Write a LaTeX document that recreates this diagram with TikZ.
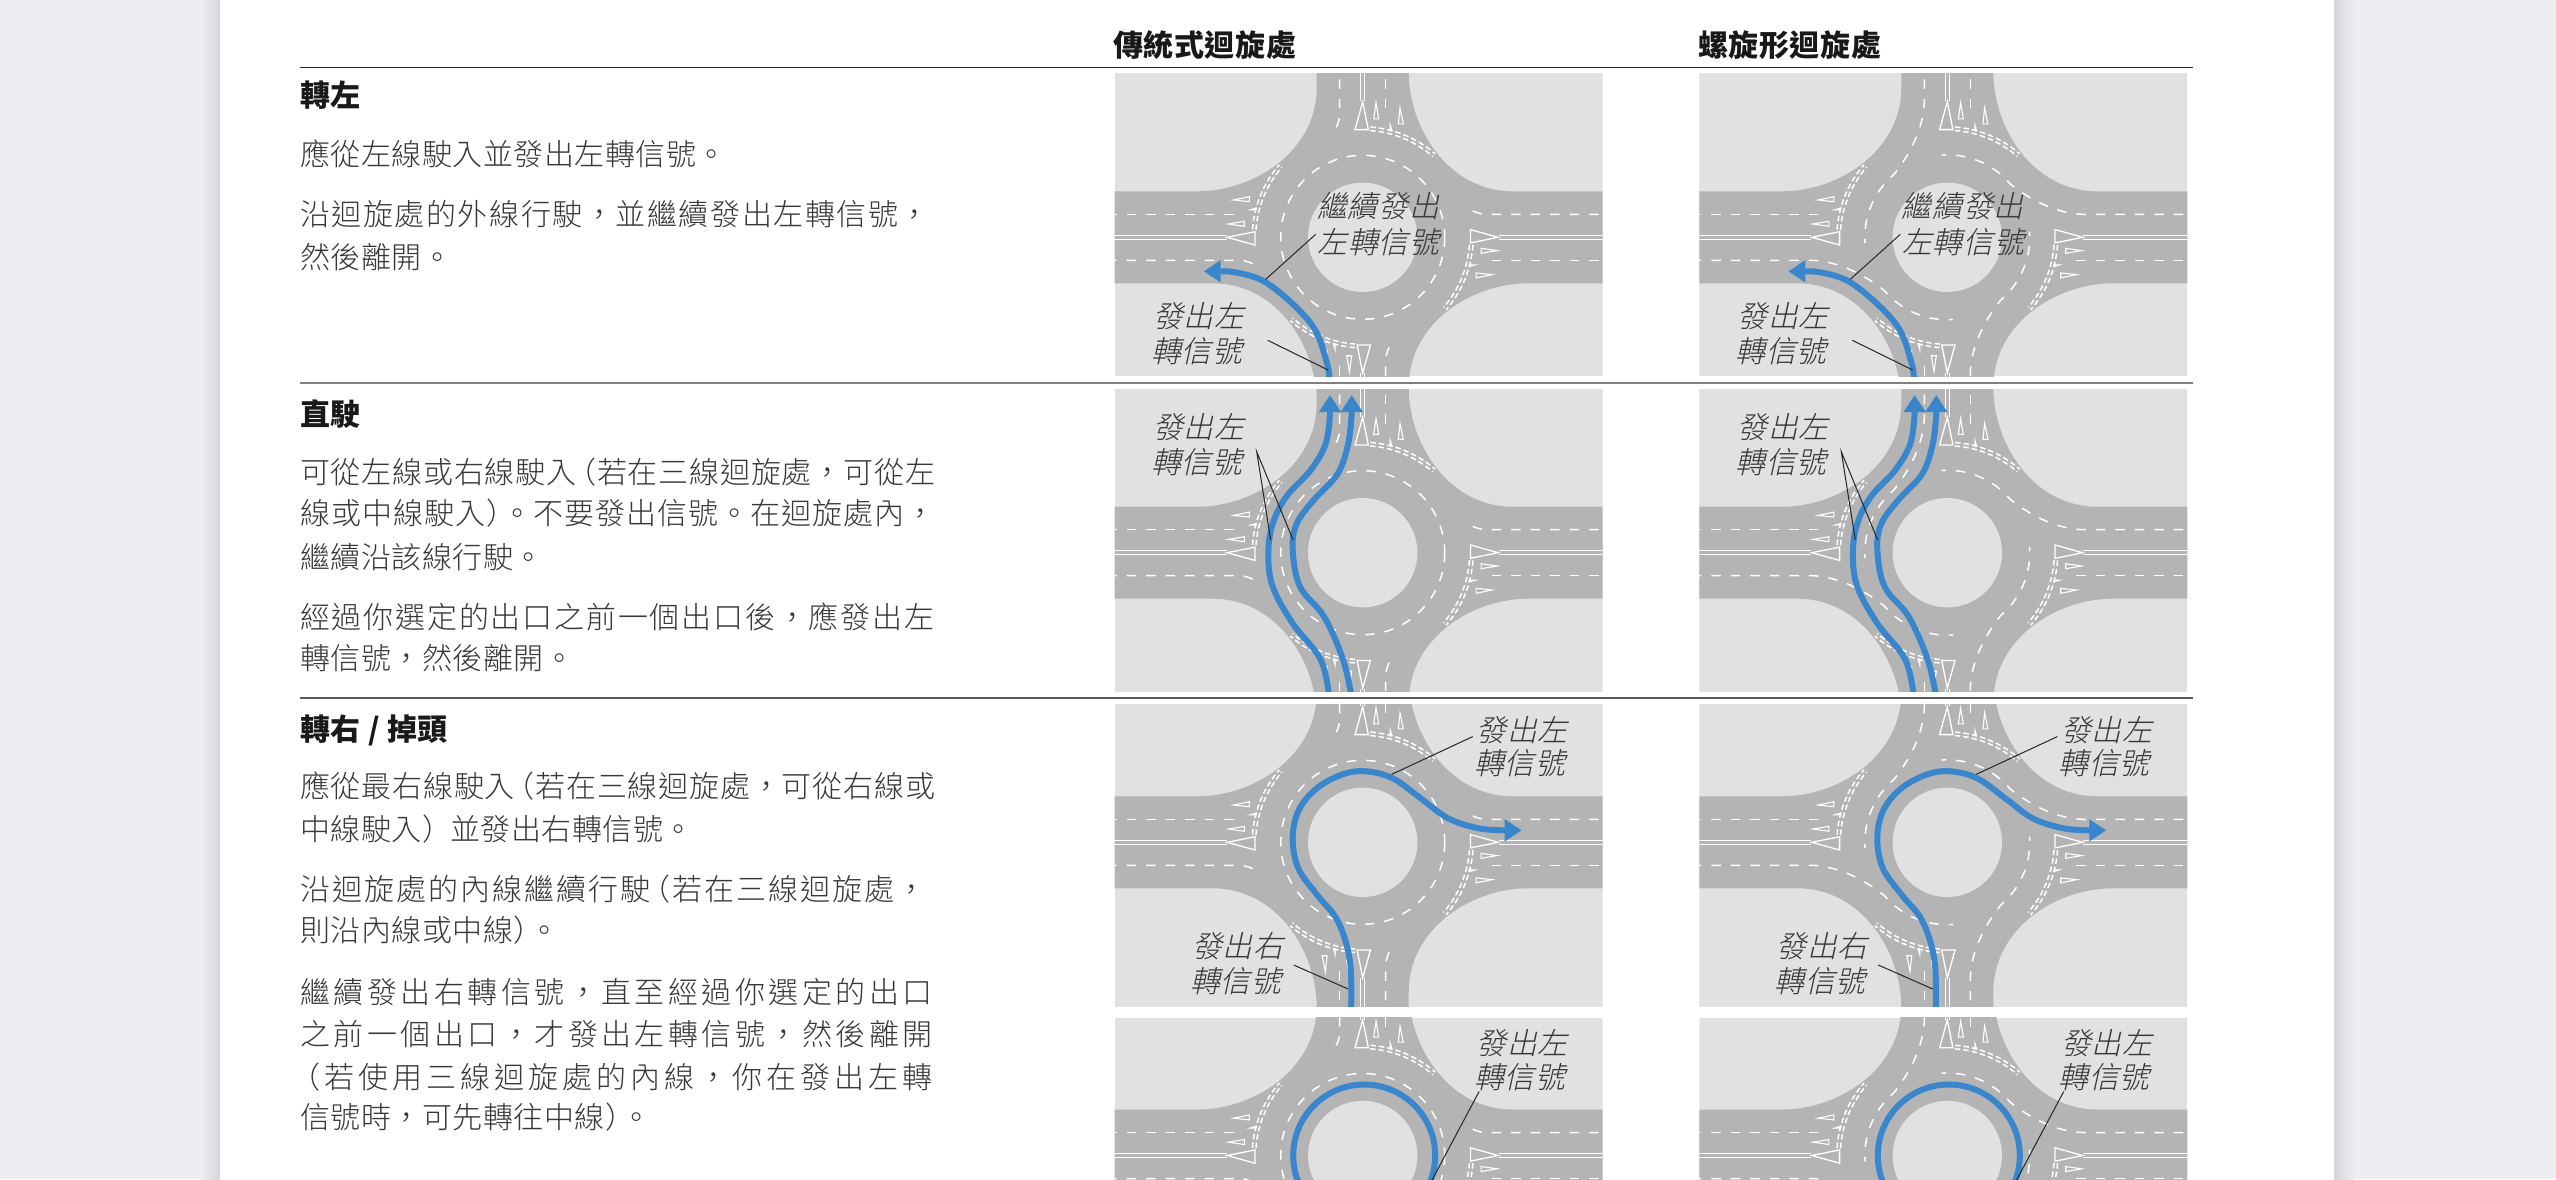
\documentclass[tikz,border=0pt]{standalone}
\usepackage{fontspec}
\usetikzlibrary{arrows.meta}
\setmainfont{Noto Sans CJK TC}
\newfontfamily\cjkL{Noto Sans CJK TC Light}
\newfontfamily\cjkI[FakeSlant=0.22]{Noto Sans CJK TC Light}
\newcommand\Fc{\symbol{"FF0C}}
\newcommand\Lp{\kern-10pt\symbol{"FF08}}
\newcommand\Rp{\symbol{"FF09}\kern-14pt}
\newcommand\RpW{\symbol{"FF09}\kern-2pt}
\definecolor{grass}{HTML}{E1E1E1}
\definecolor{road}{HTML}{B4B4B4}
\definecolor{bluep}{HTML}{3A86CC}
\definecolor{pagebg}{HTML}{EDEDF2}
\definecolor{pageedge}{HTML}{D6D6DA}
\definecolor{txt}{HTML}{383838}
\tikzset{
  wline/.style={draw=white,line width=1.2pt},
  wdash/.style={draw=white,line width=1.5pt,dash pattern=on 9.5pt off 10pt},
  wsmall/.style={draw=white,line width=1.5pt,dash pattern=on 5.5pt off 3pt},
  wtri/.style={draw=white,line width=1.3pt,line join=miter},
  bluepath/.style={draw=bluep,line width=6pt,-{Triangle[length=17pt,width=21pt]}},
  bluenoarrow/.style={draw=bluep,line width=6pt},
  callout/.style={draw=black!85,line width=1pt},
  lab/.style={inner sep=0pt,anchor=center,text=txt},
}
\newcommand\labtxt[1]{{\fontsize{30}{30}\selectfont\cjkI\addfontfeature{LetterSpace=2}#1}}
\newcommand\tline[4]{\node[inner sep=0pt,anchor=base west,text=txt] (#1) at (300,#2+10.5) {\fontsize{30}{30}\selectfont\cjkL\addfontfeature{LetterSpace=#3}#4};}
\newcommand\hdline[4]{\node[inner sep=0pt,anchor=base west,text=black!90] (#1) at (#2,#3+10.5) {\fontsize{30}{30}\selectfont\bfseries\addfontfeature{LetterSpace=2}#4};}
% one arm, drawn as the left arm
\newcommand\armmarks[1]{%
  \draw[wline] (-275,-2)--(-136,-2) (-275,2)--(-136,2);
  \draw[wtri] (-135.5,0)--(-107.7,-5.6)--(-107.7,7.7)--cycle;
  \draw[wtri,line width=1.1pt] (-129.4,-37.3)--(-113.4,-40.6)--(-113.4,-35.6)--cycle;
  \draw[wtri,line width=1.1pt] (-134.4,-13.3)--(-118.4,-16)--(-118.4,-11)--cycle;
  \fill[white] (-116,-27)--(-106,-30)--(-106,-27)--cycle;
  \draw[wdash] (-275,-23)--(-124,-23);
  \draw[wsmall] plot[domain=184:221,samples=16] ({107*cos(\x)},{107*sin(\x)});
  \draw[wsmall] plot[domain=184:221,samples=16] ({110.5*cos(\x)},{110.5*sin(\x)});
  \ifnum#1=1
    \draw[wdash] (-275,23)--(-135,23) .. controls (-110,24) and (-85,36) .. (-63.7,52.7)
       -- plot[domain=140:86,samples=12] ({82.5*cos(\x)},{82.5*sin(\x)});
  \else
    \draw[wdash] (-275,23)--(-122,23) .. controls (-116,23.5) and (-110,26) .. (-105,29);
  \fi
}
\newcommand\panel[6]{% cx cy top bottom spiral content
\begin{scope}[name prefix=p#5#2-]
  \begin{scope}
  \clip (#1-248,#2-#3) rectangle (#1+240,#2+#4);
  \fill[grass] (#1-248,#2-#3) rectangle (#1+240,#2+#4);
  \begin{scope}[shift={(#1,#2)}]
    \fill[road] (-275,-46) -- (-165,-46) .. controls (-110,-46) and (-46,-85) .. (-46,-150) -- (-46,-200)
      -- (46,-200) -- (46,-165) .. controls (46,-110) and (85,-46) .. (150,-46) -- (275,-46)
      -- (275,46) -- (165,46) .. controls (110,46) and (46,85) .. (46,150) -- (46,200)
      -- (-46,200) -- (-46,165) .. controls (-46,110) and (-85,46) .. (-150,46) -- (-275,46) -- cycle;
    \foreach \r in {0,90,180,270}{\begin{scope}[rotate=\r]\armmarks{#5}\end{scope}}
    \ifnum#5=0
      \draw[wdash] (0,0) circle[radius=82];
    \fi
    \fill[grass] (0,0) circle[radius=54.7];
    #6
  \end{scope}
  \end{scope}
\end{scope}}
\newcommand\rowa{%
  \draw[bluepath] plot[smooth,tension=0.6] coordinates {(-33.4,145) (-36,125) (-52,86) (-97,45) (-135,34)} -- (-159,34);
  \coordinate (c1a) at (-47,-3); \coordinate (c1b) at (-97,42);
  \draw[callout] (c1a)--(c1b);
  \coordinate (c2a) at (-95,103); \coordinate (c2b) at (-34.6,132.7);
  \draw[callout] (c2a)--(c2b);
  \node[lab] (t1) at (15.5,-30.7) {\labtxt{繼續發出}};
  \node[lab] (t2) at (16,5) {\labtxt{左轉信號}};
  \node[lab] (t3) at (-164,79) {\labtxt{發出左}};
  \node[lab] (t4) at (-166,114) {\labtxt{轉信號}};
}
\newcommand\rowb{%
  \draw[bluepath] plot[smooth,tension=0.6] coordinates {(-33.4,145) (-42,107) (-70,70.7) (-90,34) (-94.4,0.7) (-90,-29) (-76.4,-56) (-52,-82.7) (-37,-109) (-32.7,-139)} -- (-32.7,-157.7);
  \draw[bluepath] plot[smooth,tension=0.6] coordinates {(-11,145) (-19.6,107) (-38.6,64) (-62.7,34) (-70,-3) (-66,-29) (-49,-52.7) (-25,-79) (-14.5,-109) (-11,-139)} -- (-11,-157.7);
  \coordinate (c3a) at (-106,-101); \coordinate (c3b) at (-92,-12.7); \coordinate (c3c) at (-69.6,-12.7);
  \draw[callout] (c3b)--(c3a)--(c3c);
  \node[lab] (t3) at (-164,-126) {\labtxt{發出左}};
  \node[lab] (t4) at (-166,-91) {\labtxt{轉信號}};
}
\newcommand\rowc{%
  \draw[bluepath] plot[smooth,tension=0.6] coordinates {(-11.7,170) (-12.7,119) (-24.8,79) (-45.5,52.7) (-64.4,26) (-70,-4) (-64,-32) (-46,-54) (-20,-68) (3,-71) (30,-64) (58,-44) (85.4,-24) (116,-14) (143,-12)} -- (159,-12);
  \coordinate (c4a) at (110,-105.7); \coordinate (c4b) at (29,-68);
  \draw[callout] (c4a)--(c4b);
  \coordinate (c5a) at (-69,122.7); \coordinate (c5b) at (-14.5,146.7);
  \draw[callout] (c5a)--(c5b);
  \node[lab] (t5) at (159.5,-112) {\labtxt{發出左}};
  \node[lab] (t6) at (157,-79) {\labtxt{轉信號}};
  \node[lab] (t7) at (-125,104) {\labtxt{發出右}};
  \node[lab] (t8) at (-127,138.7) {\labtxt{轉信號}};
}
\newcommand\rowd{%
  \draw[bluenoarrow] (1.5,0) circle[radius=71];
  \coordinate (c6a) at (116.4,-64); \coordinate (c6b) at (60,42);
  \draw[callout] (c6a)--(c6b);
  \node[lab] (t5) at (159.5,-112) {\labtxt{發出左}};
  \node[lab] (t6) at (157,-78) {\labtxt{轉信號}};
}
\begin{document}
\begin{tikzpicture}[x=1pt,y=-1pt]
\useasboundingbox (0,0) rectangle (2556,1179);
\fill[pagebg] (0,0) rectangle (2556,1179);
\shade[left color=pagebg,right color=pageedge] (200,0) rectangle (220,1179);
\shade[right color=pagebg,left color=pageedge] (2334,0) rectangle (2354,1179);
\fill[white] (220,0) rectangle (2334,1179);
% header rules
\coordinate (r1a) at (300,67.3); \coordinate (r1b) at (2193,67.3);
\draw[line width=1.5pt,black!85] (r1a)--(r1b);
\coordinate (r2a) at (300,383); \coordinate (r2b) at (2193,383);
\draw[line width=1.7pt,black!50] (r2a)--(r2b);
\coordinate (r3a) at (300,698); \coordinate (r3b) at (2193,698);
\draw[line width=1.5pt,black!65] (r3a)--(r3b);
\hdline{h1}{1113}{45.6}{傳統式迴旋處}
\hdline{h2}{1698}{45.6}{螺旋形迴旋處}
\hdline{h3}{300}{96}{轉左}
\hdline{h4}{300}{415}{直駛}
\hdline{h5}{300}{730}{轉右 / 掉頭}
\tline{a1}{155}{1.7}{應從左線駛入並發出左轉信號。}
\tline{a2}{215}{5.2}{沿迴旋處的外線行駛\Fc 並繼續發出左轉信號\Fc}
\tline{a3}{257.5}{1.7}{然後離開。}
\tline{b1}{472.7}{2.6}{可從左線或右線駛入\Lp 若在三線迴旋處\Fc 可從左}
\tline{b2}{513.7}{3.3}{線或中線駛入\Rp 。不要發出信號。在迴旋處內\Fc}
\tline{b3}{557.5}{1.7}{繼續沿該線行駛。}
\tline{b4}{618}{6}{經過你選定的出口之前一個出口後\Fc 應發出左}
\tline{b5}{658.5}{1.7}{轉信號\Fc 然後離開。}
\tline{c1}{787}{2.6}{應從最右線駛入\Lp 若在三線迴旋處\Fc 可從右線或}
\tline{c2}{830}{1.7}{中線駛入\RpW 並發出右轉信號。}
\tline{c3}{890}{6.7}{沿迴旋處的內線繼續行駛\Lp 若在三線迴旋處\Fc}
\tline{c4}{931}{1.7}{則沿內線或中線\Rp 。}
\tline{c5}{993}{11.6}{繼續發出右轉信號\Fc 直至經過你選定的出口}
\tline{c6}{1035}{11.6}{之前一個出口\Fc 才發出左轉信號\Fc 然後離開}
\tline{c7}{1077.5}{13.4}{\Lp 若使用三線迴旋處的內線\Fc 你在發出左轉}
\tline{c8}{1118}{1.7}{信號時\Fc 可先轉往中線\Rp 。}
% panels
\panel{1362.7}{237.3}{164}{138.7}{0}{\rowa}
\panel{1947.3}{237.3}{164}{138.7}{1}{\rowa}
\panel{1362.7}{552.7}{163.7}{139}{0}{\rowb}
\panel{1947.3}{552.7}{163.7}{139}{1}{\rowb}
\panel{1362.7}{842.3}{138}{164.4}{0}{\rowc}
\panel{1947.3}{842.3}{138}{164.4}{1}{\rowc}
\panel{1362.7}{1155.5}{137.8}{164}{0}{\rowd}
\panel{1947.3}{1155.5}{137.8}{164}{1}{\rowd}
\end{tikzpicture}
\end{document}
